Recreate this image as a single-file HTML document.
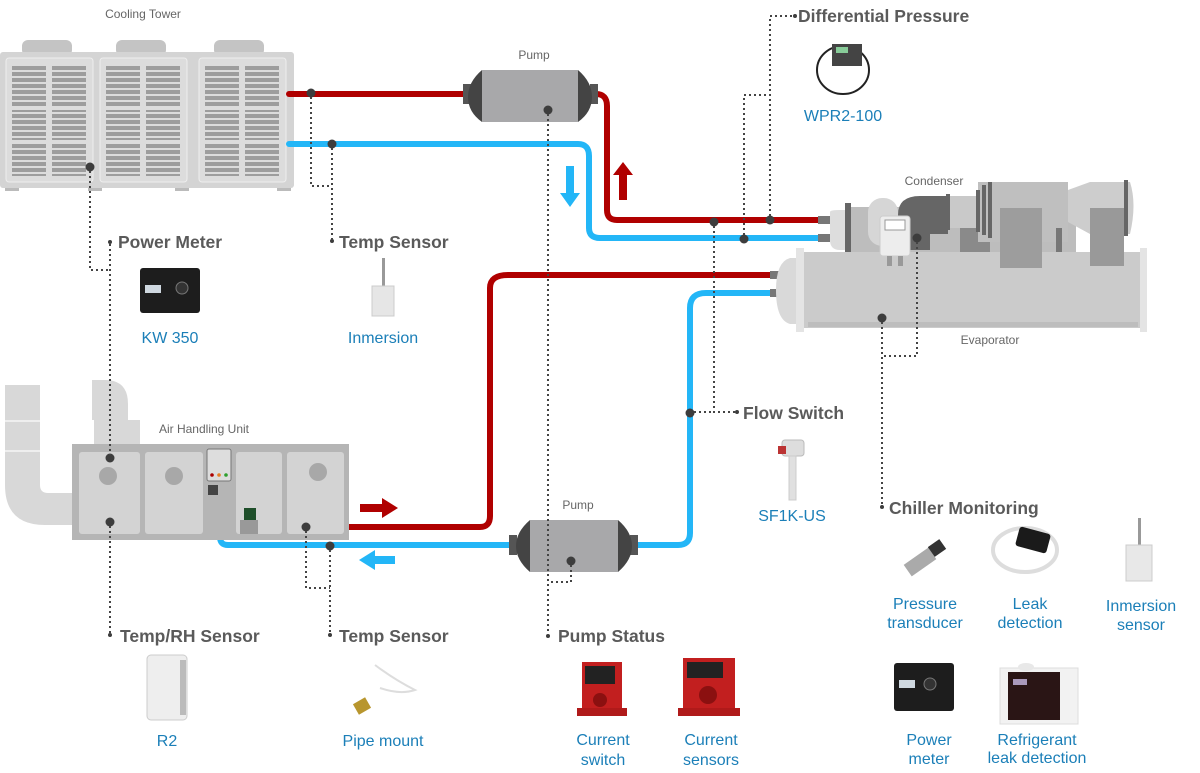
<!DOCTYPE html>
<html><head><meta charset="utf-8"><style>
html,body{margin:0;padding:0;background:#fff;}
svg{display:block;}
.t{font-family:"Liberation Sans",sans-serif;fill:#666;font-size:12px;}
.h{font-family:"Liberation Sans",sans-serif;fill:#5a5a5a;font-size:17.5px;font-weight:bold;}
.b{font-family:"Liberation Sans",sans-serif;fill:#1b7fb8;font-size:16px;text-anchor:middle;}
.d{stroke:#444;stroke-width:2;stroke-dasharray:2 3;fill:none;}
</style></head><body>
<svg width="1200" height="773" viewBox="0 0 1200 773" xmlns="http://www.w3.org/2000/svg">
<defs>
<pattern id="gr" width="10" height="6" patternUnits="userSpaceOnUse"><rect x="0" y="0" width="10" height="4" fill="#9d9d9d"/></pattern>
</defs>

<!-- Cooling tower -->
<text class="t" x="143" y="18" text-anchor="middle">Cooling Tower</text>
<rect x="22" y="40" width="50" height="16" rx="6" fill="#c4c4c4"/>
<rect x="116" y="40" width="50" height="16" rx="6" fill="#c4c4c4"/>
<rect x="214" y="40" width="50" height="16" rx="6" fill="#c4c4c4"/>
<rect x="0" y="52" width="294" height="136" rx="3" fill="#d4d4d4"/>
<rect x="6" y="58" width="87" height="124" rx="3" fill="#dcdcdc" stroke="#eee"/>
<rect x="100" y="58" width="87" height="124" rx="3" fill="#dcdcdc" stroke="#eee"/>
<rect x="199" y="58" width="87" height="124" rx="3" fill="#dcdcdc" stroke="#eee"/>
<g fill="url(#gr)">
<rect x="12" y="66" width="34" height="40"/><rect x="52" y="66" width="34" height="40"/>
<rect x="12" y="110" width="34" height="30"/><rect x="52" y="110" width="34" height="30"/>
<rect x="12" y="144" width="34" height="32"/><rect x="52" y="144" width="34" height="32"/>
<rect x="106" y="66" width="34" height="40"/><rect x="146" y="66" width="34" height="40"/>
<rect x="106" y="110" width="34" height="30"/><rect x="146" y="110" width="34" height="30"/>
<rect x="106" y="144" width="34" height="32"/><rect x="146" y="144" width="34" height="32"/>
<rect x="205" y="66" width="34" height="40"/><rect x="245" y="66" width="34" height="40"/>
<rect x="205" y="110" width="34" height="30"/><rect x="245" y="110" width="34" height="30"/>
<rect x="205" y="144" width="34" height="32"/><rect x="245" y="144" width="34" height="32"/>
</g>
<rect x="5" y="188" width="14" height="3" fill="#bbb"/><rect x="88" y="188" width="14" height="3" fill="#bbb"/><rect x="175" y="188" width="14" height="3" fill="#bbb"/><rect x="277" y="188" width="14" height="3" fill="#bbb"/>

<!-- Pipes -->
<g fill="none" stroke-width="6" stroke-linecap="round">
<path d="M289 94 H470" stroke="#b00000"/>
<path d="M596 94 Q607 94 607 106 V210 Q607 220 617 220 H822" stroke="#b00000"/>
<path d="M289 144 H578 Q589 144 589 156 V228 Q589 238 600 238 H822" stroke="#23b6f7"/>
<path d="M780 275 H508 Q490 275 490 288 V516 Q490 527 480 527 H228 Q221 527 221 517 V512" stroke="#b00000"/>
<path d="M780 293 H706 Q690 293 690 308 V533 Q690 545 678 545 H228 Q220 545 220 537 V532" stroke="#23b6f7"/>
</g>
<rect x="818" y="216" width="12" height="8" fill="#777"/>
<rect x="818" y="234" width="12" height="8" fill="#777"/>
<rect x="770" y="271" width="12" height="8" fill="#777"/>
<rect x="770" y="289" width="12" height="8" fill="#777"/>

<!-- arrows -->
<path d="M566 166 h8 v27 h6 l-10 14 l-10 -14 h6 z" fill="#23b6f7"/>
<path d="M619 200 h8 v-25 h6 l-10 -13 l-10 13 h6 z" fill="#b00000"/>
<path d="M360 504 h22 v-6 l16 10 l-16 10 v-6 h-22 z" fill="#b00000"/>
<path d="M395 556 h-20 v-6 l-16 10 l16 10 v-6 h20 z" fill="#23b6f7"/>

<!-- top pump -->
<text class="t" x="534" y="59" text-anchor="middle">Pump</text>
<rect x="463" y="84" width="8" height="20" fill="#555"/>
<rect x="590" y="84" width="8" height="20" fill="#555"/>
<path d="M482 70 H578 Q592 82 592 97 Q592 112 578 122 H482 Q468 112 468 97 Q468 82 482 70z" fill="#444"/>
<rect x="482" y="70" width="96" height="52" fill="#a8a8aa"/>

<!-- lower pump -->
<text class="t" x="578" y="509" text-anchor="middle">Pump</text>
<rect x="509" y="535" width="8" height="20" fill="#555"/>
<rect x="630" y="535" width="8" height="20" fill="#555"/>
<path d="M530 520 H618 Q632 532 632 546 Q632 560 618 572 H530 Q516 560 516 546 Q516 532 530 520z" fill="#444"/>
<rect x="530" y="520" width="88" height="52" fill="#a8a8aa"/>

<!-- Condenser / evaporator -->
<text class="t" x="934" y="185" text-anchor="middle">Condenser</text>
<path d="M830 212 Q830 210 840 210 H845 V250 H840 Q830 250 830 240z" fill="#ddd"/>
<rect x="845" y="203" width="6" height="50" fill="#666"/>
<rect x="851" y="207" width="225" height="45" fill="#bdbdbd"/>
<rect x="868" y="198" width="30" height="48" rx="14" fill="#d6d6d6"/>
<path d="M898 245 V215 Q898 196 920 196 H948 V234 H930 V250 H898z" fill="#666"/>
<rect x="948" y="196" width="30" height="32" fill="#c9c9c9"/>
<rect x="946" y="194" width="4" height="36" fill="#666"/>
<rect x="960" y="228" width="30" height="42" fill="#8a8a8a"/>
<rect x="978" y="182" width="90" height="60" fill="#bfbfbf"/>
<rect x="976" y="190" width="4" height="42" fill="#666"/>
<rect x="982" y="185" width="4" height="50" fill="#666"/>
<rect x="988" y="182" width="4" height="56" fill="#666"/>
<path d="M1068 190 L1090 182 H1130 Q1137 204 1130 234 H1090 L1068 222z" fill="#cdcdcd"/>
<rect x="1056" y="228" width="6" height="24" fill="#777"/>
<rect x="1124" y="180" width="4" height="56" fill="#666"/>
<path d="M790 258 Q776 262 776 290 Q776 320 790 324 H798 V258z" fill="#d9d9d9"/>
<rect x="796" y="248" width="8" height="84" fill="#e4e4e4"/>
<rect x="804" y="252" width="336" height="76" fill="#cbcbcb"/>
<rect x="808" y="322" width="330" height="5" fill="#bdbdbd"/>
<rect x="1140" y="248" width="7" height="84" fill="#e4e4e4"/>
<rect x="1000" y="208" width="42" height="60" fill="#9d9d9d"/>
<rect x="1090" y="208" width="34" height="58" fill="#999"/>
<rect x="880" y="216" width="30" height="40" rx="3" fill="#ededed" stroke="#ccc"/>
<rect x="885" y="220" width="20" height="10" fill="#fff" stroke="#999"/>
<rect x="887" y="256" width="5" height="10" fill="#999"/><rect x="898" y="256" width="5" height="10" fill="#999"/>
<text class="t" x="990" y="344" text-anchor="middle">Evaporator</text>

<!-- AHU -->
<path d="M5 385 H40 V485 Q40 493 48 493 H75 V525 H45 Q5 525 5 485z" fill="#d8d8d8"/>
<path d="M92 380 H105 Q128 380 128 404 V420 H140 V444 H94 V420 H92z" fill="#d8d8d8"/>
<rect x="5" y="420" width="35" height="2" fill="#eee"/><rect x="5" y="450" width="35" height="2" fill="#eee"/>
<text class="t" x="204" y="433" text-anchor="middle">Air Handling Unit</text>
<rect x="72" y="444" width="277" height="96" fill="#b5b5b5"/>
<rect x="79" y="452" width="61" height="82" rx="3" fill="#d3d3d3"/>
<rect x="145" y="452" width="58" height="82" rx="3" fill="#d3d3d3"/>
<rect x="236" y="452" width="46" height="82" rx="3" fill="#d3d3d3"/>
<rect x="287" y="452" width="57" height="82" rx="3" fill="#d3d3d3"/>
<circle cx="108" cy="476" r="9" fill="#a8a8a8"/><circle cx="174" cy="476" r="9" fill="#a8a8a8"/><circle cx="318" cy="472" r="9" fill="#a8a8a8"/>
<rect x="207" y="449" width="24" height="32" rx="2" fill="#ddd" stroke="#777"/>
<circle cx="212" cy="475" r="1.8" fill="#a00"/><circle cx="219" cy="475" r="1.8" fill="#e67e22"/><circle cx="226" cy="475" r="1.8" fill="#2ea02e"/>
<rect x="208" y="485" width="10" height="10" fill="#444"/>
<rect x="244" y="508" width="12" height="12" fill="#1e4f2a"/>
<rect x="240" y="520" width="18" height="14" fill="#999"/>

<!-- Dots -->
<g fill="#3d3d3d">
<circle cx="311" cy="93" r="4.5"/><circle cx="332" cy="144" r="4.5"/><circle cx="90" cy="167" r="4.5"/><circle cx="548" cy="110" r="4.5"/>
<circle cx="714" cy="222" r="4.5"/><circle cx="770" cy="220" r="4.5"/><circle cx="744" cy="239" r="4.5"/>
<circle cx="917" cy="238" r="4.5"/><circle cx="882" cy="318" r="4.5"/><circle cx="690" cy="413" r="4.5"/>
<circle cx="110" cy="458" r="4.5"/><circle cx="110" cy="522" r="4.5"/><circle cx="306" cy="527" r="4.5"/><circle cx="330" cy="546" r="4.5"/><circle cx="571" cy="561" r="4.5"/>
<circle cx="110" cy="242" r="2"/><circle cx="332" cy="241" r="2"/><circle cx="795" cy="16" r="2"/><circle cx="737" cy="412" r="2"/><circle cx="882" cy="507" r="2"/>
<circle cx="110" cy="635" r="2"/><circle cx="330" cy="635" r="2"/><circle cx="548" cy="636" r="2"/>
</g>

<!-- Dotted leaders -->
<path class="d" d="M311 97 V186 H332"/>
<path class="d" d="M332 148 V240"/>
<path class="d" d="M90 171 V270 H110"/>
<path class="d" d="M110 244 V455"/>
<path class="d" d="M110 526 V633"/>
<path class="d" d="M548 114 V634"/>
<path class="d" d="M770 216 V16 H793"/>
<path class="d" d="M744 235 V95 H770"/>
<path class="d" d="M714 226 V412 H735"/>
<path class="d" d="M694 412 H714"/>
<path class="d" d="M917 242 V356 H882"/>
<path class="d" d="M882 322 V505"/>
<path class="d" d="M306 531 V588 H330"/>
<path class="d" d="M330 550 V633"/>
<path class="d" d="M571 565 V582 H548"/>

<!-- Headers -->
<text class="h" x="118" y="248">Power Meter</text>
<text class="h" x="339" y="248">Temp Sensor</text>
<text class="h" x="798" y="22">Differential Pressure</text>
<text class="h" x="743" y="419">Flow Switch</text>
<text class="h" x="889" y="514">Chiller Monitoring</text>
<text class="h" x="120" y="642">Temp/RH Sensor</text>
<text class="h" x="339" y="642">Temp Sensor</text>
<text class="h" x="558" y="642">Pump Status</text>

<!-- Product icons -->
<rect x="140" y="268" width="60" height="45" rx="3" fill="#1d1d1d"/><rect x="145" y="285" width="16" height="8" fill="#cfd8e0"/><circle cx="182" cy="288" r="6" fill="#333" stroke="#777"/>
<rect x="382" y="258" width="3" height="30" fill="#999"/><rect x="372" y="286" width="22" height="30" fill="#e6e6e6" stroke="#ccc"/>
<ellipse cx="843" cy="70" rx="26" ry="24" fill="none" stroke="#222" stroke-width="2"/><rect x="832" y="44" width="30" height="22" fill="#444"/><rect x="836" y="47" width="12" height="6" fill="#8c9"/>
<rect x="782" y="440" width="22" height="16" rx="3" fill="#ddd" stroke="#bbb"/><rect x="789" y="456" width="7" height="44" fill="#e0e0e0" stroke="#ccc"/><rect x="778" y="446" width="8" height="8" fill="#b33"/>
<rect x="147" y="655" width="40" height="65" rx="4" fill="#eee" stroke="#ccc"/><rect x="180" y="660" width="6" height="55" fill="#bbb"/>
<path d="M375 665 Q395 680 415 690 Q400 695 380 688" fill="none" stroke="#ddd" stroke-width="2"/><rect x="355" y="700" width="14" height="12" fill="#b8962e" transform="rotate(-30 362 706)"/>
<rect x="582" y="662" width="40" height="50" fill="#c21f1f"/><rect x="585" y="666" width="30" height="18" fill="#222"/><circle cx="600" cy="700" r="7" fill="#8b1010"/><rect x="577" y="708" width="50" height="8" fill="#b01a1a"/>
<rect x="683" y="658" width="52" height="54" fill="#c21f1f"/><rect x="687" y="662" width="36" height="16" fill="#222"/><circle cx="708" cy="695" r="9" fill="#8b1010"/><rect x="678" y="708" width="62" height="8" fill="#b01a1a"/>
<rect x="905" y="555" width="30" height="14" fill="#aaa" transform="rotate(-35 920 562)"/><rect x="930" y="542" width="14" height="12" fill="#333" transform="rotate(-35 937 548)"/>
<ellipse cx="1025" cy="550" rx="32" ry="22" fill="none" stroke="#ddd" stroke-width="4"/><rect x="1017" y="530" width="32" height="20" rx="3" fill="#1a1a1a" transform="rotate(15 1033 540)"/>
<rect x="1138" y="518" width="3" height="30" fill="#999"/><rect x="1126" y="545" width="26" height="36" fill="#e8e8e8" stroke="#ccc"/>
<rect x="894" y="663" width="60" height="48" rx="3" fill="#1d1d1d"/><rect x="899" y="680" width="16" height="8" fill="#cfd8e0"/><circle cx="930" cy="684" r="6" fill="#333" stroke="#777"/>
<rect x="1000" y="668" width="78" height="56" fill="#f2f2f2" stroke="#ddd"/><rect x="1008" y="672" width="52" height="48" fill="#2a1515"/><rect x="1013" y="679" width="14" height="6" fill="#a9b"/><ellipse cx="1026" cy="667" rx="8" ry="4" fill="#e8e8e8"/>

<!-- Blue labels -->
<text class="b" x="170" y="343">KW 350</text>
<text class="b" x="383" y="343">Inmersion</text>
<text class="b" x="843" y="121">WPR2-100</text>
<text class="b" x="792" y="521">SF1K-US</text>
<text class="b" x="167" y="746">R2</text>
<text class="b" x="383" y="746">Pipe mount</text>
<text class="b" x="603" y="745">Current</text><text class="b" x="603" y="765">switch</text>
<text class="b" x="711" y="745">Current</text><text class="b" x="711" y="765">sensors</text>
<text class="b" x="925" y="609">Pressure</text><text class="b" x="925" y="628">transducer</text>
<text class="b" x="1030" y="609">Leak</text><text class="b" x="1030" y="628">detection</text>
<text class="b" x="1141" y="611">Inmersion</text><text class="b" x="1141" y="630">sensor</text>
<text class="b" x="929" y="745">Power</text><text class="b" x="929" y="764">meter</text>
<text class="b" x="1037" y="745">Refrigerant</text><text class="b" x="1037" y="763">leak detection</text>
</svg>
</body></html>
